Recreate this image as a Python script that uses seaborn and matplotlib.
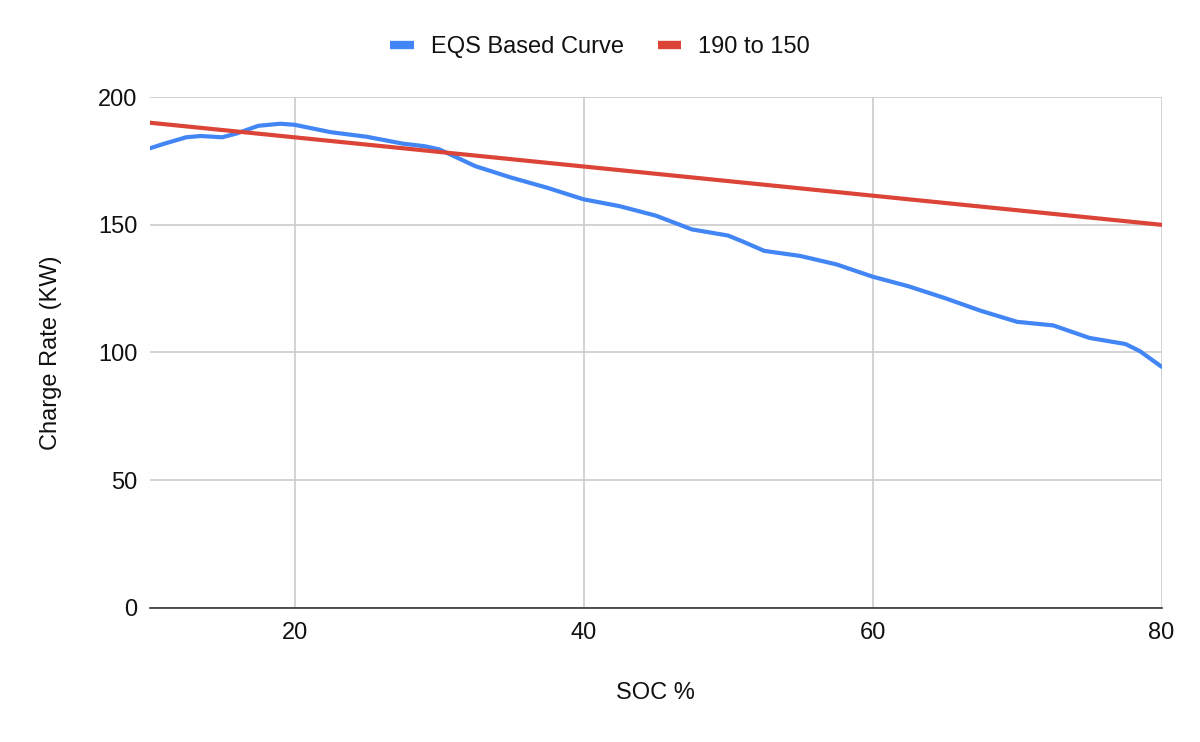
import matplotlib
matplotlib.use("Agg")
import matplotlib.pyplot as plt
import seaborn as sns
import pandas as pd

# EQS based curve
soc = [10, 11, 12.5, 13.5, 15, 16, 17.5, 19, 20, 22.5, 25, 27.5, 29, 30, 31,
       32.5, 35, 37.5, 40, 42.5, 45, 47.5, 50, 51, 52.5, 55, 57.5, 60, 62.5,
       65, 67.5, 70, 72.5, 75, 77.5, 78.5, 80]
eqs_rate = [180, 181.8, 184.3, 184.8, 184.3, 185.8, 188.8, 189.6, 189.2, 186.3,
            184.5, 181.8, 180.8, 179.6, 177, 173, 168.5, 164.5, 160, 157.3,
            153.6, 148.2, 145.8, 143.5, 139.8, 137.8, 134.5, 129.7, 125.9,
            121.3, 116.3, 112, 110.6, 105.7, 103.3, 100.5, 94.4]

# straight line 190 -> 150
line_soc = [10, 80]
line_rate = [190, 150]

x_ticks = [20, 40, 60, 80]
y_ticks = [0, 50, 100, 150, 200]

sns.set_style("white")
plt.rcParams['font.family'] = ['Liberation Sans', 'DejaVu Sans']

fig = plt.figure(figsize=(12, 7.42), dpi=100)
ax = fig.add_axes([0.125, 0.181, 0.843, 0.688])

eqs = pd.DataFrame({"soc": soc, "rate": eqs_rate})
lin = pd.DataFrame({"soc": line_soc, "rate": line_rate})

sns.lineplot(data=eqs, x="soc", y="rate", ax=ax, color="#4285F4", lw=3,
             label="EQS Based Curve", zorder=3)
sns.lineplot(data=lin, x="soc", y="rate", ax=ax, color="#DB4437", lw=3,
             label="190 to 150", zorder=4)

ax.set_xlim(10, 80)
ax.set_ylim(0, 200)
ax.set_xticks(x_ticks)
ax.set_yticks(y_ticks)
ax.grid(True, color="#cccccc", lw=1.2)
ax.set_axisbelow(True)
for s in ["left", "right", "top"]:
    ax.spines[s].set_visible(False)
ax.spines["bottom"].set_color("#333333")
ax.spines["bottom"].set_linewidth(1.2)
ax.spines["bottom"].set_zorder(5)
ax.tick_params(axis="y", length=0, labelsize=17, colors="#111111", pad=9)
ax.tick_params(axis="x", length=0, labelsize=17, colors="#111111", pad=10)

ax.set_xlabel("SOC %", fontsize=17, color="#111111", labelpad=28)
ax.set_ylabel("Charge Rate (KW)", fontsize=17, color="#111111", labelpad=26)

# legend centred on the figure, not the axes
handles, labels = ax.get_legend_handles_labels()
ax.get_legend().remove()
leg = fig.legend(handles, labels, loc="center", bbox_to_anchor=(0.5, 0.937),
                 ncol=2, frameon=False, fontsize=17, handlelength=1.0,
                 handleheight=0.5, columnspacing=1.45, handletextpad=0.72)
for h in leg.get_lines():
    h.set_linewidth(6)
    h.set_solid_capstyle("butt")
for t in leg.get_texts():
    t.set_color("#111111")

fig.savefig("out.png", dpi=100)
